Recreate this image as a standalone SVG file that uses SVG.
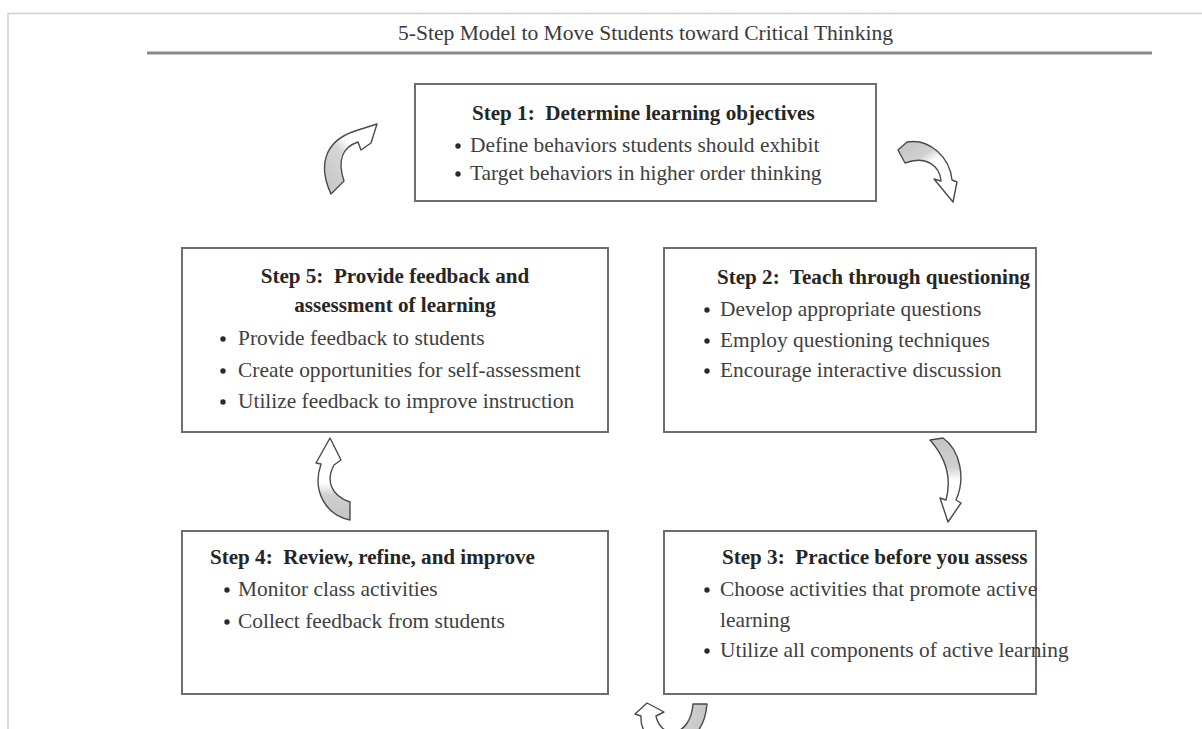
<svg xmlns="http://www.w3.org/2000/svg" width="1202" height="729" viewBox="0 0 1202 729">
<style>
.frame{stroke:#d0d0d0;stroke-width:1.5;fill:none}
.hdr{stroke:#8a8a8a;stroke-width:3}
.box{fill:#fff;stroke:#6e6e6e;stroke-width:2}
.ttl{font-family:"Liberation Serif","Times New Roman",serif;font-size:20px;fill:#3a3a3a}
.h{font-family:"Liberation Serif","Times New Roman",serif;font-size:21.1px;font-weight:bold;fill:#262626;white-space:pre}
.b{font-family:"Liberation Serif","Times New Roman",serif;font-size:21.4px;fill:#404040}
.dot{fill:#2a2a2a}
.arr{stroke:#4a4a4a;stroke-width:1.4;stroke-linejoin:round}
</style>
<defs>
<linearGradient id="g1" x1="0" y1="1" x2="1" y2="0"><stop offset="0" stop-color="#c4c4c4"/><stop offset="0.45" stop-color="#d6d6d6"/><stop offset="0.6" stop-color="#fff"/><stop offset="1" stop-color="#fff"/></linearGradient>
<linearGradient id="g2" x1="0" y1="0" x2="0.6" y2="1"><stop offset="0" stop-color="#c4c4c4"/><stop offset="0.35" stop-color="#d0d0d0"/><stop offset="0.5" stop-color="#fff"/><stop offset="1" stop-color="#fff"/></linearGradient>
<linearGradient id="g3" x1="0" y1="1" x2="0" y2="0"><stop offset="0" stop-color="#c4c4c4"/><stop offset="0.3" stop-color="#d0d0d0"/><stop offset="0.45" stop-color="#fff"/><stop offset="1" stop-color="#fff"/></linearGradient>
<linearGradient id="g4" x1="0" y1="0" x2="0" y2="1"><stop offset="0" stop-color="#c4c4c4"/><stop offset="0.35" stop-color="#d0d0d0"/><stop offset="0.5" stop-color="#fff"/><stop offset="1" stop-color="#fff"/></linearGradient>
<linearGradient id="g5" x1="1" y1="0" x2="0" y2="0"><stop offset="0" stop-color="#c4c4c4"/><stop offset="0.3" stop-color="#d0d0d0"/><stop offset="0.5" stop-color="#fff"/><stop offset="1" stop-color="#fff"/></linearGradient>
</defs>
<rect width="1202" height="729" fill="#fff"/>
<line class="frame" x1="8" y1="13.5" x2="1202" y2="13.5"/>
<line class="frame" x1="8" y1="13" x2="8" y2="729"/>
<line class="hdr" x1="147" y1="53" x2="1152" y2="53"/>
<text class="ttl" x="398" y="40" textLength="495" lengthAdjust="spacingAndGlyphs">5-Step Model to Move Students toward Critical Thinking</text>

<g id="step1">
<rect class="box" x="415" y="84" width="461" height="117"/>
<text class="h" x="472" y="120" xml:space="preserve">Step 1:  Determine learning objectives</text>
<circle class="dot" cx="458" cy="146" r="2.7"/>
<text class="b" x="470" y="152">Define behaviors students should exhibit</text>
<circle class="dot" cx="458" cy="174" r="2.7"/>
<text class="b" x="470" y="180">Target behaviors in higher order thinking</text>
</g>

<g id="step2">
<rect class="box" x="664" y="248" width="372" height="184"/>
<text class="h" x="717" y="284" xml:space="preserve">Step 2:  Teach through questioning</text>
<circle class="dot" cx="707" cy="310" r="2.7"/>
<text class="b" x="720" y="316">Develop appropriate questions</text>
<circle class="dot" cx="707" cy="341" r="2.7"/>
<text class="b" x="720" y="347">Employ questioning techniques</text>
<circle class="dot" cx="707" cy="371" r="2.7"/>
<text class="b" x="720" y="377">Encourage interactive discussion</text>
</g>

<g id="step3">
<rect class="box" x="664" y="531" width="372" height="163"/>
<text class="h" x="722" y="564" xml:space="preserve">Step 3:  Practice before you assess</text>
<circle class="dot" cx="707" cy="590" r="2.7"/>
<text class="b" x="720" y="596">Choose activities that promote active</text>
<text class="b" x="720" y="627">learning</text>
<circle class="dot" cx="707" cy="651" r="2.7"/>
<text class="b" x="720" y="657">Utilize all components of active learning</text>
</g>

<g id="step4">
<rect class="box" x="182" y="531" width="426" height="163"/>
<text class="h" x="210" y="564" xml:space="preserve">Step 4:  Review, refine, and improve</text>
<circle class="dot" cx="227" cy="590" r="2.7"/>
<text class="b" x="238" y="596">Monitor class activities</text>
<circle class="dot" cx="227" cy="622" r="2.7"/>
<text class="b" x="238" y="628">Collect feedback from students</text>
</g>

<g id="step5">
<rect class="box" x="182" y="248" width="426" height="184"/>
<text class="h" x="395" y="283" text-anchor="middle" xml:space="preserve">Step 5:  Provide feedback and</text>
<text class="h" x="395" y="312" text-anchor="middle">assessment of learning</text>
<circle class="dot" cx="223" cy="339" r="2.7"/>
<text class="b" x="238" y="345">Provide feedback to students</text>
<circle class="dot" cx="223" cy="371" r="2.7"/>
<text class="b" x="238" y="377">Create opportunities for self-assessment</text>
<circle class="dot" cx="223" cy="402" r="2.7"/>
<text class="b" x="238" y="408">Utilize feedback to improve instruction</text>
</g>

<g id="connectors">
<path class="arr" fill="url(#g1)" d="M331,194 C319,168 322,142 355,131 L377,124 L371,143 L361,150 L358,142 C343,147 337,160 344,181 Z"/>
<path class="arr" fill="url(#g2)" d="M898,150 L907,142 C930,138 950,158 952,180 L957,182 L953,202 L934,179 L941,181 C940,166 926,155 905,163 Z"/>
<path class="arr" fill="url(#g4)" d="M930,440 L943,438 C960,450 966,478 956,500 L961,503 L948,522 L940,498 L946,500 C952,478 946,458 930,440 Z"/>
<path class="arr" fill="url(#g5)" d="M693,704 L707,704 C705,730 690,745 670,745 C650,745 640,730 641,716 L635,714 L647,703 L664,712 L656,716 C658,726 665,732 672,732 C685,732 692,718 693,704 Z"/>
<path class="arr" fill="url(#g3)" d="M350,520 C325,515 312,490 321,464 L316,463 L330,438 L341,460 L334,465 C326,480 330,495 350,502 Z"/>
</g>
</svg>
